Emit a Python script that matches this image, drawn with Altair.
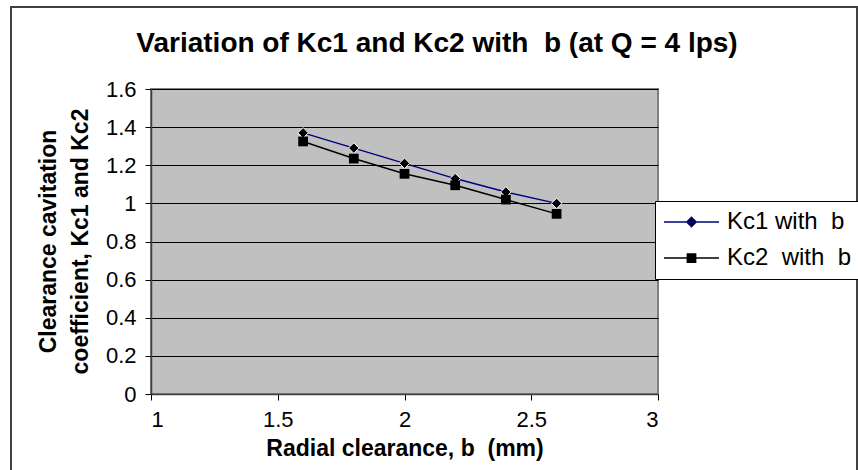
import altair as alt
import pandas as pd

# ---- data ----
b_mm = [1.6, 1.8, 2.0, 2.2, 2.4, 2.6]
kc1 = [1.37, 1.29, 1.21, 1.13, 1.06, 1.00]
kc2 = [1.325, 1.235, 1.155, 1.095, 1.02, 0.945]
series_names = ["Kc1 with\u00a0 b", "Kc2\u00a0 with\u00a0 b"]
x_ticks = [1, 1.5, 2, 2.5, 3]
y_ticks = [0, 0.2, 0.4, 0.6, 0.8, 1.0, 1.2, 1.4, 1.6]
title_text = ["Variation of Kc1 and Kc2 with\u00a0 b (at Q = 4 lps)"]

df = pd.DataFrame({
    "b": b_mm + b_mm,
    "value": kc1 + kc2,
    "series": [series_names[0]] * len(b_mm) + [series_names[1]] * len(b_mm),
})

FONT = "Arial, Liberation Sans, sans-serif"

# legend symbols: line segment with marker (unit coords, scaled by sqrt(size)/2)
sym_diamond = "M-1,0H1M0,-0.17L0.17,0L0,0.17L-0.17,0Z"
sym_square = "M-1,0H1M-0.15,-0.15H0.15V0.15H-0.15Z"

x_enc = alt.X(
    "b:Q",
    scale=alt.Scale(domain=[1, 3], nice=False, zero=False),
    axis=alt.Axis(
        values=x_ticks, format="~g", grid=False,
        title="Radial clearance, b\u00a0 (mm)",
        titleY=54, titleBaseline="middle",
        labelPadding=9, tickSize=6,
    ),
)
y_enc = alt.Y(
    "value:Q",
    scale=alt.Scale(domain=[0, 1.6], nice=False),
    axis=alt.Axis(
        values=y_ticks, format="~g", grid=True,
        title=["Clearance cavitation", "coefficient, Kc1 and Kc2"],
        titleAngle=270, titleX=-103, titleY=152, titleAlign="center",
        titleBaseline="middle", titleLineHeight=32,
        labelPadding=9, tickSize=6,
    ),
)

legend = alt.Legend(
    title=None, orient="none", legendX=504, legendY=112,
    fillColor="white", strokeColor="black", padding=8,
    labelFont=FONT, labelFontSize=24, labelColor="black", labelOffset=7,
    symbolSize=3025, symbolStrokeWidth=1.5, rowPadding=10, labelLimit=300,
    clipHeight=26,
)
color_enc = alt.Color(
    "series:N",
    scale=alt.Scale(domain=series_names, range=["#000080", "#000000"]),
    legend=legend,
)
shape_enc = alt.Shape(
    "series:N",
    scale=alt.Scale(domain=series_names, range=[sym_diamond, sym_square]),
    legend=legend,
)

base = alt.Chart(df)

border = alt.Chart(pd.DataFrame({"a": [0]})).mark_rect(
    fill="transparent", stroke="#404040", strokeWidth=2
).encode(x=alt.value(-140), x2=alt.value(706), y=alt.value(-82), y2=alt.value(420))

title = alt.Chart(pd.DataFrame({"t": title_text})).mark_text(
    font=FONT, fontSize=28, fontWeight="bold", color="black",
    align="center", baseline="alphabetic",
).encode(text="t:N", x=alt.value(286), y=alt.value(-37))

lines = base.mark_line(strokeWidth=1.5).encode(x=x_enc, y=y_enc, color=color_enc)

pts1 = base.transform_filter(alt.datum.series == series_names[0]).mark_point(
    shape="diamond", filled=True, fill="black", size=110, stroke="white",
    strokeWidth=1, opacity=1,
).encode(x=x_enc, y=y_enc)

pts2 = base.transform_filter(alt.datum.series == series_names[1]).mark_point(
    shape="square", filled=True, fill="black", size=95, opacity=1,
).encode(x=x_enc, y=y_enc)

leg_layer = base.transform_filter("false").mark_point(
    filled=False, fill="black", opacity=1
).encode(x=x_enc, y=y_enc, color=color_enc, shape=shape_enc)

chart = alt.layer(border, title, lines, pts1, pts2, leg_layer).properties(
    width=507,
    height=305,
    autosize=alt.AutoSizeParams(type="none"),
    padding={"left": 151, "top": 89, "right": 200, "bottom": 76},
    background="white",
).configure_view(
    fill="#C0C0C0", stroke="#808080", strokeWidth=2
).configure_axis(
    labelFont=FONT, labelFontSize=22, labelColor="black",
    titleFont=FONT, titleFontSize=23, titleFontWeight="bold", titleColor="black",
    domainColor="#404040", domainWidth=1.5, tickColor="black", tickWidth=1,
    gridColor="black", gridWidth=1, gridOpacity=1,
)

chart.save("out.html", embed_options={"renderer": "svg", "actions": False})
